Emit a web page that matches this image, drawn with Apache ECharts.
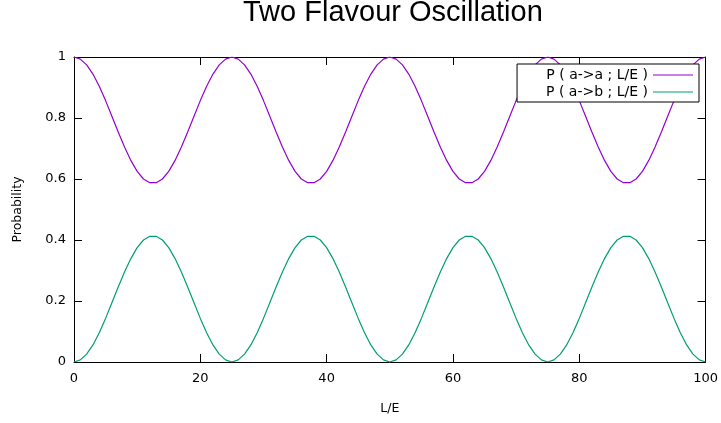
<!DOCTYPE html>
<html>
<head>
<meta charset="utf-8">
<title>Two Flavour Oscillation</title>
<script src="https://cdn.jsdelivr.net/npm/echarts@6/dist/echarts.min.js"></script>
<style>
  html, body { margin: 0; padding: 0; background: #fff; }
  #chart { width: 721px; height: 423px; }
</style>
</head>
<body>
<div id="chart"></div>
<script>
// Sample positions along L/E
const lOverE = [
  0, 1, 2, 3, 4, 5, 6, 7, 8, 9, 10, 11, 12, 13, 14, 15, 16, 17, 18, 19, 20, 21, 22, 23, 24,
  25, 26, 27, 28, 29, 30, 31, 32, 33, 34, 35, 36, 37, 38, 39, 40, 41, 42, 43, 44, 45, 46, 47, 48, 49,
  50, 51, 52, 53, 54, 55, 56, 57, 58, 59, 60, 61, 62, 63, 64, 65, 66, 67, 68, 69, 70, 71, 72, 73, 74,
  75, 76, 77, 78, 79, 80, 81, 82, 83, 84, 85, 86, 87, 88, 89, 90, 91, 92, 93, 94, 95, 96, 97, 98, 99,
  100
];

// Survival probability P(a->a)
const survival = [
  1, 0.993, 0.974, 0.944, 0.904, 0.857, 0.806, 0.754, 0.705, 0.661, 0.625, 0.600, 0.588,
  0.588, 0.600, 0.625, 0.661, 0.705, 0.754, 0.806, 0.857, 0.904, 0.944, 0.974, 0.993,
  1, 0.993, 0.974, 0.944, 0.904, 0.857, 0.806, 0.754, 0.705, 0.661, 0.625, 0.600, 0.588,
  0.588, 0.600, 0.625, 0.661, 0.705, 0.754, 0.806, 0.857, 0.904, 0.944, 0.974, 0.993,
  1, 0.993, 0.974, 0.944, 0.904, 0.857, 0.806, 0.754, 0.705, 0.661, 0.625, 0.600, 0.588,
  0.588, 0.600, 0.625, 0.661, 0.705, 0.754, 0.806, 0.857, 0.904, 0.944, 0.974, 0.993,
  1, 0.993, 0.974, 0.944, 0.904, 0.857, 0.806, 0.754, 0.705, 0.661, 0.625, 0.600, 0.588,
  0.588, 0.600, 0.625, 0.661, 0.705, 0.754, 0.806, 0.857, 0.904, 0.944, 0.974, 0.993,
  1
];

// Appearance probability P(a->b)
const appearance = [
  0, 0.007, 0.026, 0.056, 0.096, 0.143, 0.194, 0.246, 0.295, 0.339, 0.375, 0.400, 0.412,
  0.412, 0.400, 0.375, 0.339, 0.295, 0.246, 0.194, 0.143, 0.096, 0.056, 0.026, 0.007,
  0, 0.007, 0.026, 0.056, 0.096, 0.143, 0.194, 0.246, 0.295, 0.339, 0.375, 0.400, 0.412,
  0.412, 0.400, 0.375, 0.339, 0.295, 0.246, 0.194, 0.143, 0.096, 0.056, 0.026, 0.007,
  0, 0.007, 0.026, 0.056, 0.096, 0.143, 0.194, 0.246, 0.295, 0.339, 0.375, 0.400, 0.412,
  0.412, 0.400, 0.375, 0.339, 0.295, 0.246, 0.194, 0.143, 0.096, 0.056, 0.026, 0.007,
  0, 0.007, 0.026, 0.056, 0.096, 0.143, 0.194, 0.246, 0.295, 0.339, 0.375, 0.400, 0.412,
  0.412, 0.400, 0.375, 0.339, 0.295, 0.246, 0.194, 0.143, 0.096, 0.056, 0.026, 0.007,
  0
];

const seriesNames = ['P ( a->a ; L/E )', 'P ( a->b ; L/E )'];
const seriesColors = ['#9400d3', '#009e73'];

const FONT = 'DejaVu Sans';

// Legend key: a thin horizontal stroke centred in a 40x14 box
const LINE_KEY = 'path://M0 0H40V0.01H0Z M0 6.4H40V7.6H0Z M0 13.99H40V14H0Z';

const toPairs = ys => ys.map((y, i) => [lOverE[i], y]);

const tickInside = { show: true, inside: true, length: 8, lineStyle: { color: '#000', width: 1 } };
const borderLine = { show: true, onZero: false, lineStyle: { color: '#000', width: 1 } };

const chart = echarts.init(document.getElementById('chart'), null, { renderer: 'canvas' });

chart.setOption({
  animation: false,
  backgroundColor: '#fff',
  title: {
    text: 'Two Flavour Oscillation',
    left: 238,
    top: -7,
    textStyle: { fontFamily: 'Liberation Sans', fontSize: 29, fontWeight: 'normal', color: '#000' }
  },
  legend: {
    data: seriesNames.map(name => ({ name, icon: LINE_KEY })),
    right: 22,
    top: 64,
    orient: 'vertical',
    align: 'right',
    itemWidth: 40,
    itemHeight: 14,
    itemGap: 3,
    padding: [4, 6, 3, 29],
    borderColor: '#000',
    borderWidth: 1,
    backgroundColor: '#fff',
    textStyle: { fontFamily: FONT, fontSize: 14, color: '#000' }
  },
  grid: { left: 74, right: 13, top: 57, bottom: 61, containLabel: false },
  xAxis: [
    {
      type: 'value', position: 'bottom', min: 0, max: 100, interval: 20,
      name: 'L/E', nameLocation: 'middle', nameGap: 40,
      nameTextStyle: { fontFamily: FONT, fontSize: 12.5, color: '#000' },
      axisLine: borderLine, axisTick: tickInside, splitLine: { show: false },
      axisLabel: { margin: 10, fontFamily: FONT, fontSize: 13, color: '#000' }
    },
    {
      type: 'value', position: 'top', min: 0, max: 100, interval: 20,
      axisLine: borderLine, axisTick: tickInside, splitLine: { show: false },
      axisLabel: { show: false }
    }
  ],
  yAxis: [
    {
      type: 'value', position: 'left', min: 0, max: 1, interval: 0.2,
      name: 'Probability', nameLocation: 'middle', nameGap: 50,
      nameTextStyle: { fontFamily: FONT, fontSize: 12.5, color: '#000' },
      axisLine: borderLine, axisTick: tickInside, splitLine: { show: false },
      axisLabel: { margin: 8, fontFamily: FONT, fontSize: 13, color: '#000' }
    },
    {
      type: 'value', position: 'right', min: 0, max: 1, interval: 0.2,
      axisLine: borderLine, axisTick: tickInside, splitLine: { show: false },
      axisLabel: { show: false }
    }
  ],
  series: [
    {
      name: seriesNames[0], type: 'line', xAxisIndex: 0, yAxisIndex: 0,
      data: toPairs(survival), symbol: 'none', smooth: false,
      lineStyle: { color: seriesColors[0], width: 1.2 }, itemStyle: { color: seriesColors[0] }
    },
    {
      name: seriesNames[1], type: 'line', xAxisIndex: 0, yAxisIndex: 0,
      data: toPairs(appearance), symbol: 'none', smooth: false,
      lineStyle: { color: seriesColors[1], width: 1.2 }, itemStyle: { color: seriesColors[1] }
    }
  ]
});
</script>
</body>
</html>
